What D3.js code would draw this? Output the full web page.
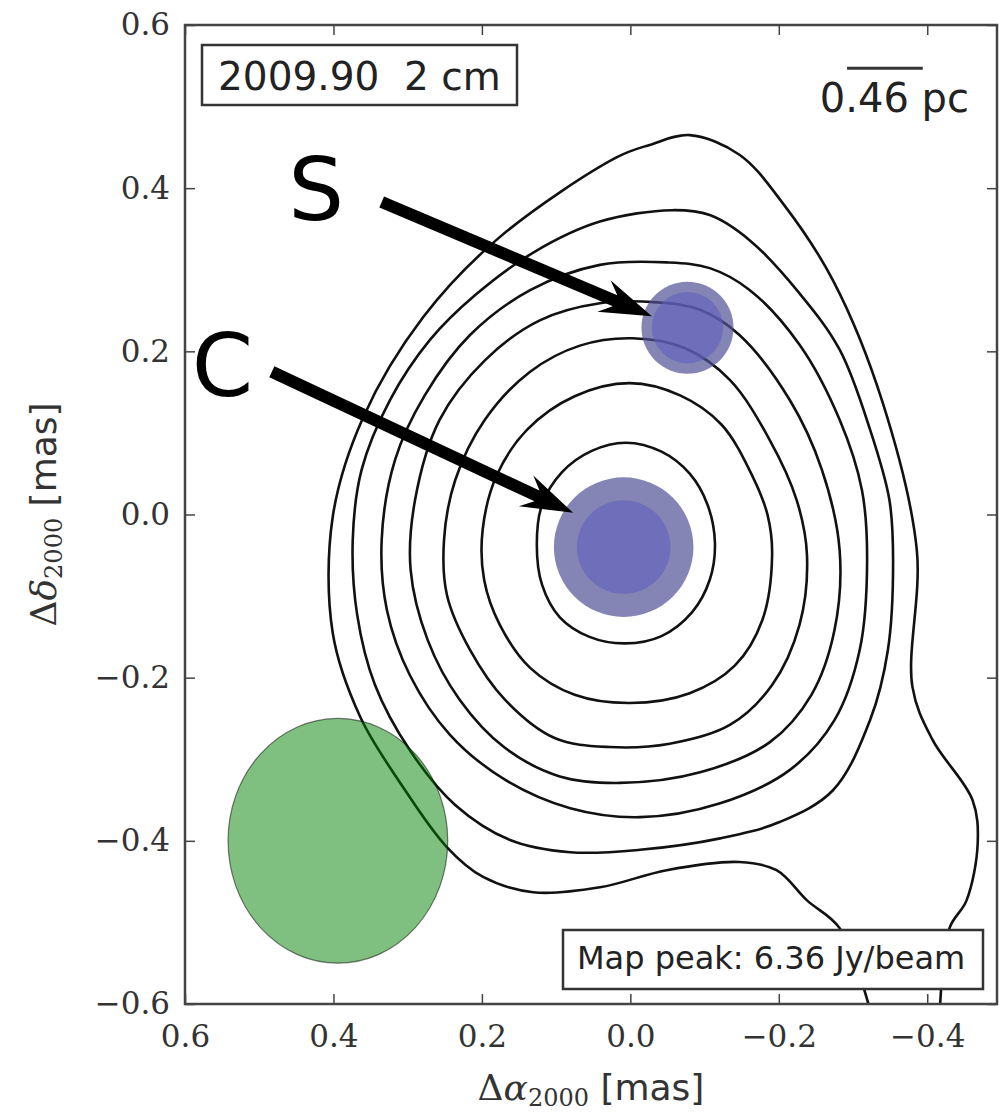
<!DOCTYPE html>
<html>
<head>
<meta charset="utf-8">
<script src="https://cdn.jsdelivr.net/npm/d3@7"></script>
<style>
  body { margin: 0; background: #fff; }
</style>
</head>
<body>
<svg id="chart"></svg>
<script>
// axis ticks (mas)
const xTicks = [0.6, 0.4, 0.2, 0.0, -0.2, -0.4];
const yTicks = [0.6, 0.4, 0.2, 0.0, -0.2, -0.4, -0.6];

// contour levels, inner -> outer, [dRA, dDec] in mas
const contour1 = [[0.006,0.088],[-0.042,0.077],[-0.080,0.050],[-0.104,0.012],[-0.114,-0.035],[-0.107,-0.080],[-0.083,-0.120],[-0.042,-0.149],[0.007,-0.158],[0.055,-0.150],[0.095,-0.126],[0.119,-0.086],[0.126,-0.037],[0.119,0.012],[0.092,0.052],[0.052,0.078]];
const contour2 = [[0.001,0.161],[-0.067,0.146],[-0.123,0.110],[-0.164,0.048],[-0.185,-0.001],[-0.191,-0.050],[-0.178,-0.129],[-0.141,-0.185],[-0.080,-0.219],[0.001,-0.231],[0.075,-0.221],[0.135,-0.188],[0.176,-0.135],[0.197,-0.080],[0.199,-0.019],[0.180,0.048],[0.139,0.104],[0.075,0.145]];
const contour3 = [[-0.003,0.216],[-0.073,0.204],[-0.134,0.165],[-0.188,0.091],[-0.224,0.018],[-0.238,-0.050],[-0.228,-0.135],[-0.191,-0.209],[-0.134,-0.258],[-0.053,-0.281],[0.028,-0.285],[0.102,-0.274],[0.169,-0.227],[0.216,-0.166],[0.247,-0.099],[0.251,-0.031],[0.236,0.042],[0.196,0.116],[0.135,0.175],[0.068,0.207]];
const contour4 = [[-0.036,0.260],[-0.094,0.251],[-0.147,0.220],[-0.215,0.140],[-0.258,0.055],[-0.282,-0.044],[-0.275,-0.142],[-0.244,-0.221],[-0.188,-0.279],[-0.094,-0.316],[0.014,-0.329],[0.095,-0.321],[0.169,-0.286],[0.230,-0.227],[0.273,-0.154],[0.296,-0.068],[0.290,0.018],[0.257,0.116],[0.196,0.189],[0.122,0.238],[0.041,0.259]];
const contour5 = [[-0.049,0.309],[-0.107,0.302],[-0.161,0.275],[-0.228,0.208],[-0.282,0.116],[-0.312,0.030],[-0.319,-0.056],[-0.309,-0.166],[-0.275,-0.252],[-0.215,-0.313],[-0.121,-0.354],[-0.013,-0.371],[0.081,-0.360],[0.169,-0.325],[0.243,-0.270],[0.297,-0.197],[0.328,-0.117],[0.335,-0.031],[0.317,0.067],[0.277,0.146],[0.216,0.220],[0.135,0.275],[0.041,0.306]];
const contour6 = [[-0.056,0.373],[-0.107,0.367],[-0.161,0.336],[-0.228,0.271],[-0.282,0.202],[-0.323,0.104],[-0.349,0.018],[-0.354,-0.056],[-0.347,-0.166],[-0.323,-0.252],[-0.273,-0.338],[-0.201,-0.377],[-0.121,-0.397],[-0.013,-0.411],[0.081,-0.414],[0.162,-0.399],[0.236,-0.356],[0.297,-0.289],[0.344,-0.209],[0.368,-0.123],[0.374,-0.031],[0.362,0.055],[0.324,0.140],[0.270,0.214],[0.209,0.269],[0.129,0.322],[0.041,0.359]];
// outermost level runs off the bottom of the map
const contour7 = [[-0.417,-0.607],[-0.430,-0.507],[-0.453,-0.473],[-0.468,-0.403],[-0.461,-0.350],[-0.407,-0.276],[-0.380,-0.211],[-0.386,-0.044],[-0.340,0.137],[-0.273,0.287],[-0.205,0.382],[-0.147,0.441],[-0.080,0.465],[-0.026,0.453],[0.018,0.438],[0.176,0.340],[0.279,0.242],[0.360,0.119],[0.401,-0.003],[0.401,-0.145],[0.364,-0.248],[0.310,-0.329],[0.247,-0.408],[0.199,-0.444],[0.131,-0.463],[0.041,-0.457],[-0.049,-0.436],[-0.147,-0.426],[-0.197,-0.436],[-0.238,-0.473],[-0.282,-0.507],[-0.323,-0.607]];
const closedContours = [contour1, contour2, contour3, contour4, contour5, contour6];

// model components: name, x, y, outer radius, inner radius (mas)
const compNames = ["S", "C"];
const compX = [-0.077, 0.009];
const compY = [0.229, -0.040];
const compROuter = [0.062, 0.094];
const compRInner = [0.048, 0.063];

// arrows: [start, tip] in mas
const arrowStart = [[0.335, 0.383], [0.483, 0.175]];
const arrowTip = [[-0.029, 0.243], [0.077, 0.002]];
const labelPos = [[0.461, 0.361], [0.591, 0.145]];

// beam
const beamX = 0.394, beamY = -0.400, beamRx = 0.148, beamRy = 0.150;

// scale bar
const barX = [-0.292, -0.394], barY = 0.547;

const epochText = "2009.90  2 cm";
const scaleText = "0.46 pc";
const peakText = "Map peak: 6.36 Jy/beam";

const W = 999, H = 1115;
const L = 185, R = 997, T = 25, B = 1004;

const svg = d3.select("#chart").attr("width", W).attr("height", H);
svg.append("rect").attr("width", W).attr("height", H).attr("fill", "#fff");

const x = d3.scaleLinear().domain([0.6, -0.494]).range([L, R]);
const y = d3.scaleLinear().domain([0.6, -0.6]).range([T, B]);

svg.append("clipPath").attr("id", "plotclip")
  .append("rect").attr("x", L).attr("y", T).attr("width", R - L).attr("height", B - T);

const plot = svg.append("g").attr("clip-path", "url(#plotclip)");

const lineClosed = d3.line().x(d => x(d[0])).y(d => y(d[1])).curve(d3.curveCatmullRomClosed.alpha(0.5));
const lineOpen = d3.line().x(d => x(d[0])).y(d => y(d[1])).curve(d3.curveCatmullRom.alpha(0.5));

plot.selectAll(".contour")
  .data(closedContours)
  .enter()
  .append("path")
  .attr("class", "contour")
  .attr("d", lineClosed)
  .attr("fill", "none")
  .attr("stroke", "#111")
  .attr("stroke-width", 2.6);

plot.append("path")
  .attr("d", lineOpen(contour7))
  .attr("fill", "none")
  .attr("stroke", "#111")
  .attr("stroke-width", 2.6);

// components
const kx = Math.abs(x(0) - x(1));
const ky = Math.abs(y(0) - y(1));
plot.selectAll(".compOuter")
  .data(compNames)
  .enter()
  .append("circle")
  .attr("class", "compOuter")
  .attr("cx", (d, i) => x(compX[i]))
  .attr("cy", (d, i) => y(compY[i]))
  .attr("r", (d, i) => compROuter[i] * kx)
  .attr("fill", "rgb(80,80,150)")
  .attr("fill-opacity", 0.7);
plot.selectAll(".compInner")
  .data(compNames)
  .enter()
  .append("circle")
  .attr("class", "compInner")
  .attr("cx", (d, i) => x(compX[i]))
  .attr("cy", (d, i) => y(compY[i]))
  .attr("r", (d, i) => compRInner[i] * kx)
  .attr("fill", "rgb(95,95,190)")
  .attr("fill-opacity", 0.6);

// beam
plot.append("ellipse")
  .attr("cx", x(beamX))
  .attr("cy", y(beamY))
  .attr("rx", beamRx * kx)
  .attr("ry", beamRy * ky)
  .attr("fill", "rgb(0,128,0)")
  .attr("fill-opacity", 0.5)
  .attr("stroke", "rgba(0,0,0,0.5)")
  .attr("stroke-width", 1.2);

// arrows
function arrowPoints(p0, p1) {
  const x0 = x(p0[0]), y0 = y(p0[1]), x1 = x(p1[0]), y1 = y(p1[1]);
  const len = Math.hypot(x1 - x0, y1 - y0);
  const ux = (x1 - x0) / len, uy = (y1 - y0) / len;
  const nx = -uy, ny = ux;
  const w = 6, hw = 17, neck = 40, back = 52;
  const pts = [
    [x0 + nx * w, y0 + ny * w],
    [x1 - ux * neck + nx * w, y1 - uy * neck + ny * w],
    [x1 - ux * back + nx * hw, y1 - uy * back + ny * hw],
    [x1, y1],
    [x1 - ux * back - nx * hw, y1 - uy * back - ny * hw],
    [x1 - ux * neck - nx * w, y1 - uy * neck - ny * w],
    [x0 - nx * w, y0 - ny * w]
  ];
  return pts.map(p => p.join(",")).join(" ");
}
svg.selectAll(".arrow")
  .data(compNames)
  .enter()
  .append("polygon")
  .attr("class", "arrow")
  .attr("points", (d, i) => arrowPoints(arrowStart[i], arrowTip[i]))
  .attr("fill", "#000");

svg.selectAll(".complabel")
  .data(compNames)
  .enter()
  .append("text")
  .attr("class", "complabel")
  .attr("x", (d, i) => x(labelPos[i][0]))
  .attr("y", (d, i) => y(labelPos[i][1]))
  .attr("font-family", "DejaVu Sans")
  .attr("font-size", 88)
  .attr("fill", "#000")
  .text(d => d);

// axes with inward ticks on all sides
const fmt = d3.format(".1f");
function styleAxis(g) {
  g.select(".domain").remove();
  g.selectAll(".tick line").attr("stroke", "#444").attr("stroke-width", 1.5);
  g.selectAll(".tick text")
    .attr("font-family", "DejaVu Serif")
    .attr("font-size", 31)
    .attr("fill", "#333");
}
svg.append("g").attr("transform", `translate(0,${B})`)
  .call(d3.axisBottom(x).tickValues(xTicks).tickFormat(fmt).tickSizeInner(-10).tickSizeOuter(0).tickPadding(21))
  .call(styleAxis);
svg.append("g").attr("transform", `translate(0,${T})`)
  .call(d3.axisTop(x).tickValues(xTicks).tickFormat("").tickSizeInner(-10).tickSizeOuter(0))
  .call(styleAxis);
svg.append("g").attr("transform", `translate(${L},0)`)
  .call(d3.axisLeft(y).tickValues(yTicks).tickFormat(fmt).tickSizeInner(-10).tickSizeOuter(0).tickPadding(15))
  .call(styleAxis);
svg.append("g").attr("transform", `translate(${R},0)`)
  .call(d3.axisRight(y).tickValues(yTicks).tickFormat("").tickSizeInner(-10).tickSizeOuter(0))
  .call(styleAxis);

svg.append("rect")
  .attr("x", L).attr("y", T).attr("width", R - L).attr("height", B - T)
  .attr("fill", "none").attr("stroke", "#444").attr("stroke-width", 2.5);

// axis labels
const xl = svg.append("text")
  .attr("x", (L + R) / 2).attr("y", 1100)
  .attr("text-anchor", "middle")
  .attr("fill", "#333")
  .attr("font-size", 36);
xl.append("tspan").attr("font-family", "DejaVu Serif").text("Δ");
xl.append("tspan").attr("font-family", "DejaVu Serif").attr("font-style", "italic").text("α");
xl.append("tspan").attr("font-family", "DejaVu Serif").attr("font-size", 24).attr("dy", 6).text("2000");
xl.append("tspan").attr("font-family", "DejaVu Sans").attr("dy", -6).text(" [mas]");

const yl = svg.append("text")
  .attr("transform", `translate(56,${(T + B) / 2}) rotate(-90)`)
  .attr("text-anchor", "middle")
  .attr("fill", "#333")
  .attr("font-size", 36);
yl.append("tspan").attr("font-family", "DejaVu Serif").text("Δ");
yl.append("tspan").attr("font-family", "DejaVu Serif").attr("font-style", "italic").text("δ");
yl.append("tspan").attr("font-family", "DejaVu Serif").attr("font-size", 24).attr("dy", 6).text("2000");
yl.append("tspan").attr("font-family", "DejaVu Sans").attr("dy", -6).text(" [mas]");

// epoch box
svg.append("rect")
  .attr("x", 202).attr("y", 45).attr("width", 315).attr("height", 60)
  .attr("fill", "#fff").attr("stroke", "#333").attr("stroke-width", 2.5);
svg.append("text")
  .attr("x", 218).attr("y", 90)
  .attr("font-family", "DejaVu Sans").attr("font-size", 39)
  .attr("fill", "#222")
  .style("white-space", "pre")
  .text(epochText);

// scale bar
svg.append("line")
  .attr("x1", x(barX[0])).attr("x2", x(barX[1]))
  .attr("y1", y(barY)).attr("y2", y(barY))
  .attr("stroke", "#333").attr("stroke-width", 3);
svg.append("text")
  .attr("x", 969).attr("y", 112)
  .attr("text-anchor", "end")
  .attr("font-family", "DejaVu Sans").attr("font-size", 40)
  .attr("fill", "#222")
  .text(scaleText);

// map peak box
svg.append("rect")
  .attr("x", 563).attr("y", 930).attr("width", 420).attr("height", 59)
  .attr("fill", "#fff").attr("stroke", "#333").attr("stroke-width", 2.5);
svg.append("text")
  .attr("x", 577).attr("y", 969)
  .attr("font-family", "DejaVu Sans").attr("font-size", 32)
  .attr("fill", "#222")
  .text(peakText);
</script>
</body>
</html>
